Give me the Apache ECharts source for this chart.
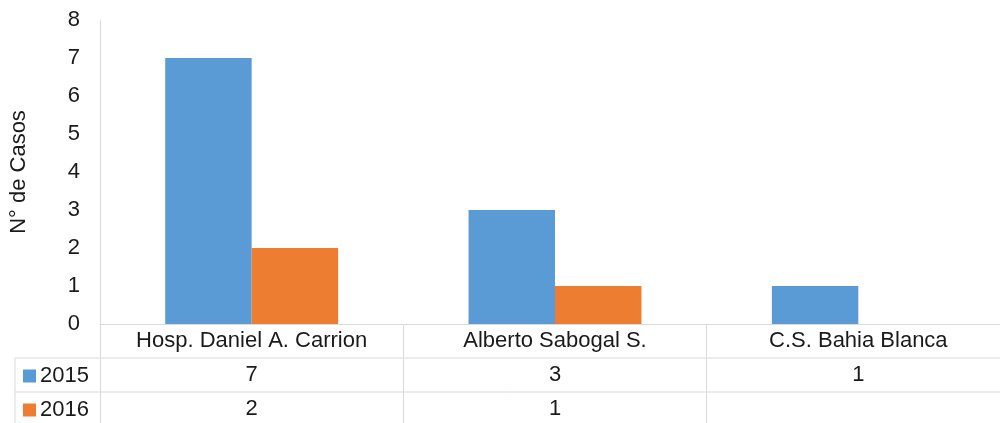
<!DOCTYPE html>
<html lang="es">
<head>
    <meta charset="UTF-8">
    <title>N° de Casos</title>
    <style>
        html, body { margin: 0; padding: 0; background: #fff; }
        #chart { width: 1000px; height: 423px; }
    </style>
    <script src="https://cdn.jsdelivr.net/npm/echarts@6/dist/echarts.min.js"></script>
</head>
<body>
<div id="chart"></div>
<script>
    // datos del gráfico
    var categorias = ['Hosp. Daniel A. Carrion', 'Alberto Sabogal S.', 'C.S. Bahia Blanca'];
    var anios = ['2015', '2016'];
    var casos2015 = [7, 3, 1];
    var casos2016 = [2, 1, null];
    var yTicks = [0, 1, 2, 3, 4, 5, 6, 7, 8];

    var azul = '#5B9BD5';
    var naranja = '#ED7D31';
    var linea = '#d9d9d9';
    var texto = '#1a1a1a';
    var fuente = 'Liberation Sans, Arial, sans-serif';
    var tam = 22;

    // layout del area de dibujo (la tabla sigue un poco fuera del lienzo a la derecha)
    var gLeft = 100, gTop = 20, gRight = -10, gBottom = 99;
    var W = 1000, H = 423;
    var fila = 34;
    var ejeY = H - gBottom;

    var myChart = echarts.init(document.getElementById('chart'));

    // una leyenda por fila de la tabla
    function leyenda(nombre, n) {
        return {
            left: 18,
            top: ejeY + fila * n + 2,
            itemWidth: 13,
            itemHeight: 13,
            itemGap: 0,
            icon: 'rect',
            selectedMode: false,
            data: [nombre],
            textStyle: { fontSize: tam, color: texto, fontFamily: fuente, padding: [0, 0, 0, -1] }
        };
    }

    var option = {
        animation: false,
        textStyle: { fontFamily: fuente },
        grid: { left: gLeft, top: gTop, right: gRight, bottom: gBottom, outerBoundsMode: 'none', containLabel: false },
        legend: [leyenda(anios[0], 1), leyenda(anios[1], 2)],
        xAxis: {
            type: 'category',
            data: categorias,
            axisLine: { show: true, lineStyle: { color: linea, width: 1 } },
            axisTick: { show: true, length: 100, lineStyle: { color: linea } },
            axisLabel: {
                margin: 0,
                interval: 0,
                formatter: function (v, i) {
                    var a = casos2015[i] == null ? ' ' : casos2015[i];
                    var b = casos2016[i] == null ? ' ' : casos2016[i];
                    return '{n|' + v + '}\n{v|' + a + '}\n{v|' + b + '}';
                },
                rich: {
                    n: { fontSize: tam, lineHeight: fila, color: texto, fontFamily: fuente },
                    v: { fontSize: tam, lineHeight: fila, color: texto, fontFamily: fuente }
                }
            }
        },
        yAxis: {
            type: 'value',
            min: yTicks[0],
            max: yTicks[yTicks.length - 1],
            interval: 1,
            name: 'N° de Casos',
            nameLocation: 'middle',
            nameGap: 70,
            nameTextStyle: { fontSize: tam, color: texto, fontFamily: fuente },
            axisLine: { show: true, lineStyle: { color: linea, width: 1 } },
            axisTick: { show: false },
            splitLine: { show: false },
            axisLabel: { fontSize: tam, color: texto, margin: 20, fontFamily: fuente }
        },
        series: [
            {
                name: anios[0],
                type: 'bar',
                data: casos2015,
                barGap: '0%',
                barCategoryGap: '43%',
                itemStyle: { color: azul }
            },
            {
                name: anios[1],
                type: 'bar',
                data: casos2016,
                barGap: '0%',
                barCategoryGap: '43%',
                itemStyle: { color: naranja }
            }
        ],
        // bordes de la tabla de datos
        graphic: [
            { type: 'line', shape: { x1: 15, y1: ejeY + fila, x2: W, y2: ejeY + fila }, style: { stroke: linea, lineWidth: 1 }, silent: true },
            { type: 'line', shape: { x1: 15, y1: ejeY + 2 * fila, x2: W, y2: ejeY + 2 * fila }, style: { stroke: linea, lineWidth: 1 }, silent: true },
            { type: 'line', shape: { x1: 15, y1: ejeY + fila, x2: 15, y2: H }, style: { stroke: linea, lineWidth: 1 }, silent: true }
        ]
    };

    myChart.setOption(option);
</script>
</body>
</html>
